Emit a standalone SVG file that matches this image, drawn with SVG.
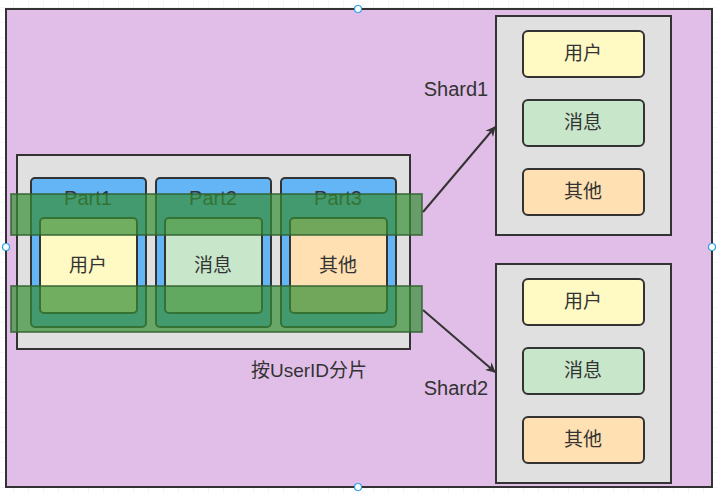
<svg xmlns="http://www.w3.org/2000/svg" width="717" height="493" viewBox="0 0 717 493">
<defs>
<pattern id="grid" x="13" y="7" width="15" height="15" patternUnits="userSpaceOnUse">
<path d="M15 0 L0 0 0 15" fill="none" stroke="#ececec" stroke-width="1"/>
</pattern>
<marker id="arr" viewBox="0 0 10 10" refX="9" refY="5" markerWidth="10" markerHeight="10" markerUnits="userSpaceOnUse" orient="auto">
<path d="M0 0 L10 5 L0 10 L3 5 Z" fill="#333"/>
</marker>
<style>
.box{stroke:#333;stroke-width:2}
.part{fill:#64b5f6;stroke:#333;stroke-width:2}
.t{font-family:"Liberation Sans","Noto Sans CJK SC",sans-serif;font-size:19px;fill:#333;text-anchor:middle;dominant-baseline:central}
.lbl{font-family:"Liberation Sans","Noto Sans CJK SC",sans-serif;font-size:20px;fill:#333;text-anchor:middle;dominant-baseline:central}
.y{fill:#fff9c4}.g{fill:#c8e6c9}.o{fill:#ffe0b2}
.bar{fill:#358f35;fill-opacity:0.7;stroke:#2f5f2f;stroke-opacity:0.7;stroke-width:2}
.conn{stroke:#333;stroke-width:2;fill:none}
.h{fill:#fff;stroke:#2aa0e8;stroke-width:1.2}
</style>
</defs>
<rect width="717" height="493" fill="#fff"/>
<rect width="717" height="493" fill="url(#grid)"/>
<g id="outer"><rect x="6" y="9" width="706" height="478" fill="#e1bee7" class="box"/></g>
<g id="source">
<rect x="17" y="155" width="393" height="194" fill="#e0e0e0" class="box"/>
<text x="309" y="370" class="t">按UserID分片</text>
</g>
<g id="part1">
<rect x="31" y="178" width="115" height="149" rx="4" class="part"/>
<text x="88" y="198" class="lbl" font-size="21">Part1</text>
<rect x="40" y="218" width="97" height="95" rx="4" class="box y"/>
<text x="88" y="265" class="t">用户</text>
</g>
<g id="part2">
<rect x="156" y="178" width="115" height="149" rx="4" class="part"/>
<text x="213" y="198" class="lbl" font-size="21">Part2</text>
<rect x="165" y="218" width="97" height="95" rx="4" class="box g"/>
<text x="213" y="265" class="t">消息</text>
</g>
<g id="part3">
<rect x="281" y="178" width="115" height="149" rx="4" class="part"/>
<text x="338" y="198" class="lbl" font-size="21">Part3</text>
<rect x="290" y="218" width="97" height="95" rx="4" class="box o"/>
<text x="338" y="265" class="t">其他</text>
</g>
<g id="bar1"><rect x="11" y="194" width="411" height="41" class="bar"/></g>
<g id="bar2"><rect x="11" y="286" width="411" height="46" class="bar"/></g>
<g id="shard1">
<rect x="496" y="16" width="175" height="219" fill="#e0e0e0" class="box"/>
<text x="456" y="89" class="lbl">Shard1</text>
<rect x="523" y="31" width="121" height="46" rx="5" class="box y"/>
<text x="583" y="53" class="t">用户</text>
<rect x="523" y="100" width="121" height="46" rx="5" class="box g"/>
<text x="583" y="122" class="t">消息</text>
<rect x="523" y="169" width="121" height="46" rx="5" class="box o"/>
<text x="583" y="191" class="t">其他</text>
</g>
<g id="shard2">
<rect x="496" y="264" width="175" height="219" fill="#e0e0e0" class="box"/>
<text x="456" y="388" class="lbl">Shard2</text>
<rect x="523" y="279" width="121" height="46" rx="5" class="box y"/>
<text x="583" y="301" class="t">用户</text>
<rect x="523" y="348" width="121" height="46" rx="5" class="box g"/>
<text x="583" y="370" class="t">消息</text>
<rect x="523" y="417" width="121" height="46" rx="5" class="box o"/>
<text x="583" y="439" class="t">其他</text>
</g>
<g id="connectors">
<line x1="423" y1="212" x2="495" y2="127" class="conn" marker-end="url(#arr)"/>
<line x1="423" y1="310" x2="495" y2="372" class="conn" marker-end="url(#arr)"/>
</g>
<g id="handles">
<circle cx="358" cy="9" r="3.5" class="h"/>
<circle cx="6" cy="247" r="3.5" class="h"/>
<circle cx="712" cy="247" r="3.5" class="h"/>
<circle cx="358" cy="487" r="3.5" class="h"/>
</g>
</svg>
